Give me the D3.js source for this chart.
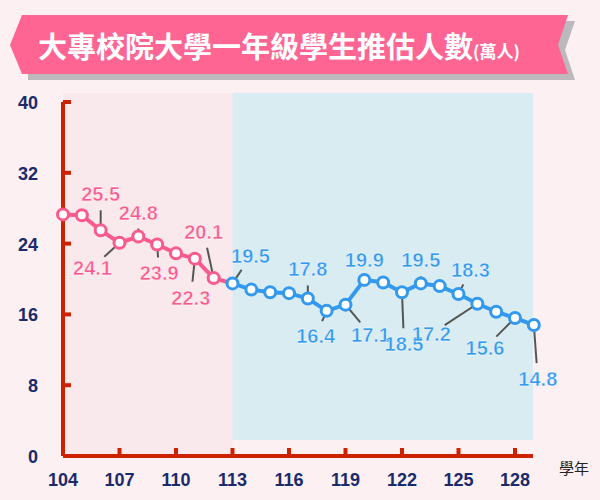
<!DOCTYPE html>
<html><head><meta charset="utf-8">
<script src="https://cdn.jsdelivr.net/npm/d3@7"></script>
<style>body{margin:0;background:#fdf0f3}</style>
</head><body>
<svg id="c" width="600" height="500"></svg>
<script>
// data
const years = d3.range(104, 130)
const values = [27.3, 27.2, 25.5, 24.1, 24.8, 23.9, 22.9, 22.3, 20.1, 19.5, 18.8, 18.5, 18.4, 17.8, 16.4, 17.1, 19.9, 19.6, 18.5, 19.5, 19.2, 18.3, 17.2, 16.3, 15.6, 14.8]
const yTicks = [0, 8, 16, 24, 32, 40]
const xTicks = [104, 107, 110, 113, 116, 119, 122, 125, 128]
// labelled points: year, label centre offset (layout only)
const labelled = [
  [106, 0, -36], [107, -27, 25], [108, 0, -24], [109, 2, 29], [111, -4, 39],
  [112, -10, -46], [113, 18, -27], [117, 0, -29], [118, -11, 25], [119, 25, 30],
  [120, 0, -20], [122, 2, 52], [123, 0, -23], [125, 12, -24], [126, -46, 30],
  [128, -30, 30], [129, 4, 54]
]

const svg = d3.select('#c')
const x = d3.scaleLinear().domain([104, 128]).range([63, 515])
const y = d3.scaleLinear().domain([0, 40]).range([456, 102])

// backdrop + title banner
svg.append('rect').attr('width', 600).attr('height', 500).attr('fill', '#fcf0f3')
svg.append('path').attr('d', 'M28,21 L575,21 L565,50 L575,80 L28,80 Z').attr('fill', '#bdb8bc')
svg.append('path').attr('d', 'M22,15 L568,15 L558,45 L568,74 L22,74 L10,45 Z').attr('fill', '#fe6593')
svg.append('text').attr('x', 38).attr('y', 58).attr('fill', '#fff')
  .attr('font-family', 'Noto Sans CJK TC').attr('font-weight', 'bold').attr('font-size', 29)
  .text('大專校院大學一年級學生推估人數')
  .append('tspan').attr('font-size', 17).text('(萬人)')

// shaded regions
svg.append('rect').attr('x', x(104)).attr('y', 93).attr('width', x(113) - x(104)).attr('height', y(0) - 93).attr('fill', '#f9e9ec')
svg.append('rect').attr('x', x(113)).attr('y', 93).attr('width', 533 - x(113)).attr('height', 440 - 93).attr('fill', '#d9ecf2')

// axes
const red = '#cc2200'
svg.append('line').attr('x1', x(104)).attr('x2', x(104)).attr('y1', y(40)).attr('y2', y(0)).attr('stroke', red).attr('stroke-width', 4)
svg.append('line').attr('x1', x(104)).attr('x2', 533).attr('y1', y(0)).attr('y2', y(0)).attr('stroke', red).attr('stroke-width', 4)
svg.selectAll('.yt').data(yTicks).join('line').attr('x1', x(104)).attr('x2', x(104) + 8)
  .attr('y1', d => y(d)).attr('y2', d => y(d)).attr('stroke', red).attr('stroke-width', 4)
svg.selectAll('.xt').data(xTicks).join('line').attr('x1', d => x(d)).attr('x2', d => x(d))
  .attr('y1', y(0)).attr('y2', y(0) - 8).attr('stroke', red).attr('stroke-width', 4)
const font = 'Liberation Sans'
svg.selectAll('.yl').data(yTicks).join('text').attr('x', 38).attr('y', d => y(d) + 7)
  .attr('text-anchor', 'end').attr('font-family', font).attr('font-weight', 'bold').attr('font-size', 18)
  .attr('fill', '#1a2a6a').text(d => d)
svg.selectAll('.xl').data(xTicks).join('text').attr('x', d => x(d)).attr('y', 486)
  .attr('text-anchor', 'middle').attr('font-family', font).attr('font-weight', 'bold').attr('font-size', 18)
  .attr('fill', '#1a2a6a').text(d => d)
svg.append('text').attr('x', 574).attr('y', 474).attr('text-anchor', 'middle').attr('font-family', 'Noto Sans CJK TC')
  .attr('font-size', 15).attr('fill', '#222').text('學年')

// lines
const pink = '#fa5a8c', blue = '#3399ee'
const pts = years.map((yr, i) => ({ yr, v: values[i] }))
const line = d3.line().x(d => x(d.yr)).y(d => y(d.v))
svg.append('path').attr('d', line(pts.filter(d => d.yr <= 113))).attr('fill', 'none').attr('stroke', pink).attr('stroke-width', 4)
svg.append('path').attr('d', line(pts.filter(d => d.yr >= 113))).attr('fill', 'none').attr('stroke', blue).attr('stroke-width', 4)

// labels with leader lines
const ptsByYr = new Map(pts.map(d => [d.yr, d]))
labelled.forEach(([yr, dx, dy]) => {
  const d = ptsByYr.get(yr)
  const c = d.yr <= 112 ? pink : blue
  const px = x(d.yr), py = y(d.v)
  const len = Math.hypot(dx, dy), k = (len - 16) / len
  svg.append('line').attr('x1', px).attr('y1', py).attr('x2', px + dx * k).attr('y2', py + dy * k)
    .attr('stroke', '#555').attr('stroke-width', 2)
  svg.append('text').attr('x', px + dx).attr('y', py + dy + 7)
    .attr('text-anchor', 'middle').attr('font-family', font).attr('font-weight', 'bold').attr('font-size', 20)
    .attr('fill', c).attr('stroke', '#fff').attr('stroke-width', 0.4).text(d.v.toFixed(1))
})

svg.selectAll('.pt').data(pts).join('circle').attr('cx', d => x(d.yr)).attr('cy', d => y(d.v)).attr('r', 5.5)
  .attr('fill', '#fff').attr('stroke', d => d.yr <= 112 ? pink : blue).attr('stroke-width', 3)
</script>
</body></html>
